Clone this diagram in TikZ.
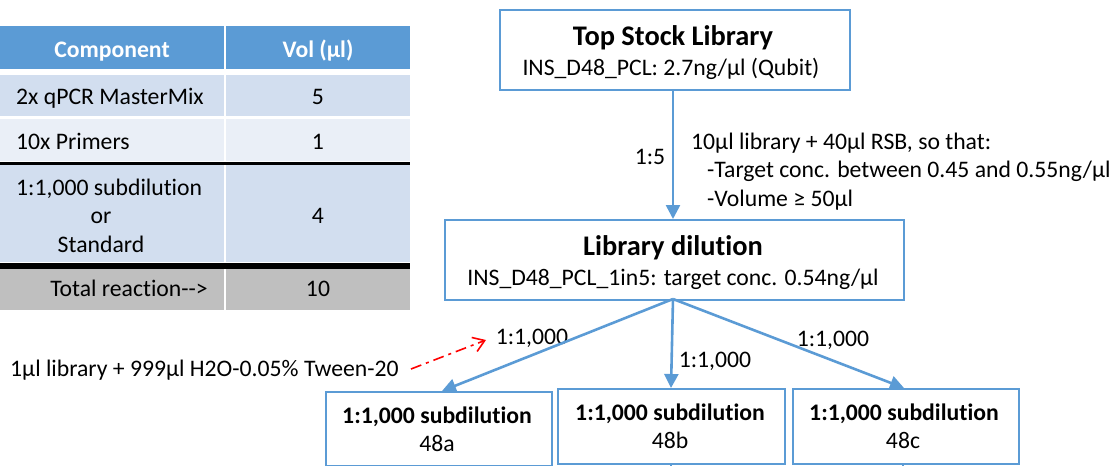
\documentclass[tikz,border=0pt]{standalone}
\usepackage{fontspec}
\setmainfont[RawFeature={-liga}]{Carlito}
\usetikzlibrary{arrows.meta}
\definecolor{blu}{HTML}{5B9BD5}
\definecolor{rowa}{HTML}{D2DEEF}
\definecolor{rowb}{HTML}{EAEFF7}
\definecolor{gry}{HTML}{BFBFBF}
\tikzset{
 x=1pt,y=-1pt,
 txt/.style={font=\fontsize{23.7}{28}\selectfont,text=black,inner sep=0pt,anchor=base},
 hd/.style={font=\fontsize{23.7}{28}\selectfont\bfseries,text=white,inner sep=0pt,anchor=base},
 ttl/.style={font=\fontsize{28.4}{34}\selectfont\bfseries,text=black,inner sep=0pt,anchor=base},
 sb/.style={font=\fontsize{23.7}{28}\selectfont\bfseries,text=black,inner sep=0pt,anchor=base},
 box/.style={draw=blu,line width=1.8pt,fill=white,inner sep=0pt,anchor=north west},
 cell/.style={inner sep=0pt,anchor=north west},
 arr/.style={draw=blu,line width=2.6pt,-{Triangle[length=14pt,width=14pt]}},
 stub/.style={draw=blu,line width=2.6pt},
}
\begin{document}
\begin{tikzpicture}
\useasboundingbox (0,0) rectangle (1120,466);
% table
\node[cell,fill=blu,minimum width=224pt,minimum height=43pt] (h1) at (0,26) {};
\node[cell,fill=blu,minimum width=184pt,minimum height=43pt] (h2) at (226,26) {};
\node[cell,fill=rowa,minimum width=224pt,minimum height=41pt] (a1) at (0,75) {};
\node[cell,fill=rowa,minimum width=184pt,minimum height=41pt] (a2) at (226,75) {};
\node[cell,fill=rowb,minimum width=224pt,minimum height=42pt] (b1) at (0,119) {};
\node[cell,fill=rowb,minimum width=184pt,minimum height=42pt] (b2) at (226,119) {};
\node[cell,fill=rowa,minimum width=224pt,minimum height=98pt] (c1) at (0,164) {};
\node[cell,fill=rowa,minimum width=184pt,minimum height=98pt] (c2) at (226,164) {};
\node[cell,fill=gry,minimum width=224pt,minimum height=41pt] (d1) at (0,269) {};
\node[cell,fill=gry,minimum width=184pt,minimum height=41pt] (d2) at (226,269) {};
\fill[black] (0,162) rectangle (410,164.5);
\fill[black] (0,263) rectangle (410,269);
\node[hd] (t1) at (112,57) {Component};
\node[hd] (t2) at (318,57) {Vol (µl)};
\node[txt,anchor=base west] (t3) at (16,104) {2x qPCR MasterMix};
\node[txt] (t4) at (318,104) {5};
\node[txt,anchor=base west] (t5) at (16,149) {10x Primers};
\node[txt] (t6) at (318,149) {1};
\node[txt,anchor=base west] (t7) at (16,195) {1:1,000 subdilution};
\node[txt] (t8) at (101,223) {or};
\node[txt] (t9) at (101,252) {Standard};
\node[txt] (t10) at (318,223) {4};
\node[txt] (t11) at (129,296) {Total reaction-{}->};
\node[txt] (t12) at (318,296) {10};
% boxes
\node[box,minimum width=350pt,minimum height=80pt] (top) at (499,9) {};
\node[ttl] (top1) at (673,45) {Top Stock Library};
\node[txt] (top2) at (671,75) {INS\_D48\_PCL: 2.7ng/µl (Qubit)};
\node[box,minimum width=459pt,minimum height=80pt] (lib) at (444,219) {};
\node[ttl] (lib1) at (673,255) {Library dilution};
\node[txt] (lib2) at (673,285) {INS\_D48\_PCL\_1in5: target conc. 0.54ng/µl};
\node[box,minimum width=226pt,minimum height=74pt] (sa) at (325,391) {};
\node[sb] (sa1) at (437,423) {1:1,000 subdilution};
\node[txt] (sa2) at (437,451) {48a};
\node[box,minimum width=227pt,minimum height=75pt] (sb) at (557,388) {};
\node[sb] (sb1) at (670,420) {1:1,000 subdilution};
\node[txt] (sb2) at (670,448) {48b};
\node[box,minimum width=226pt,minimum height=75pt] (sc) at (792,388) {};
\node[sb] (sc1) at (904,420) {1:1,000 subdilution};
\node[txt] (sc2) at (903,448) {48c};
% labels
\node[txt] (r1) at (650,164) {1:5};
\node[txt,anchor=base west] (n1) at (691,149) {10µl library + 40µl RSB, so that:};
\node[txt,anchor=base west] (n2) at (707,177) {-Target conc. between 0.45 and 0.55ng/µl};
\node[txt,anchor=base west] (n3) at (707,206) {-Volume ≥ 50µl};
\node[txt] (la) at (532,344) {1:1,000};
\node[txt] (lb) at (715,367) {1:1,000};
\node[txt] (lc) at (833,346) {1:1,000};
\node[txt,anchor=base west] (note) at (10,376) {1µl library + 999µl H2O-0.05\% Tween-20};
% connectors
\coordinate (la0) at (673,299);
\coordinate (ea) at (442,391);
\coordinate (eb) at (671,388);
\coordinate (ec) at (904,388);
\coordinate (redstart) at (411,369);
\coordinate (redend) at (486,340);
\coordinate (sbe) at (671,466);
\coordinate (sce) at (903,466);
\draw[arr] (top.south -| 673,0) -- (lib.north -| 673,0);
\draw[arr] (la0) -- (ea);
\draw[arr] (la0) -- (eb);
\draw[arr] (la0) -- (ec);
\draw[stub] (sb.south -| sbe) -- (sbe);
\draw[stub] (sc.south -| sce) -- (sce);
\draw[red,line width=1.6pt,dash pattern=on 11pt off 5pt on 3pt off 5pt,-{Straight Barb[length=11pt,width=15pt]}] (redstart) -- (redend);
\end{tikzpicture}
\end{document}
